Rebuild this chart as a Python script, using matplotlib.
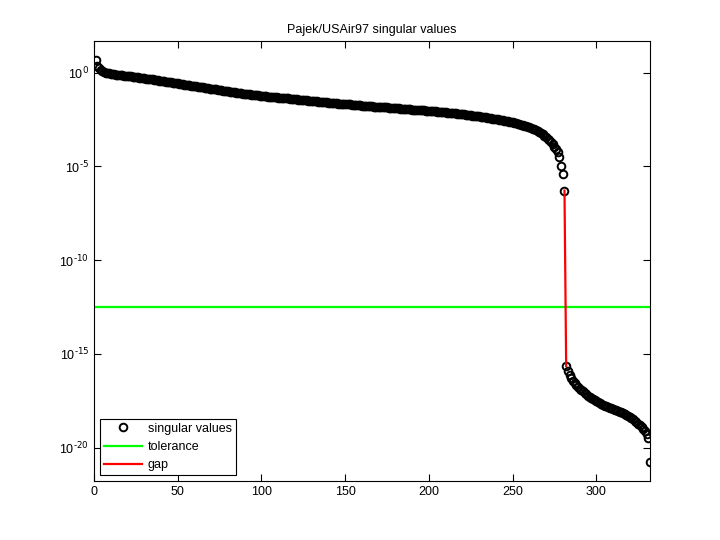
import numpy as np
import matplotlib
matplotlib.use("Agg")
import matplotlib.pyplot as plt
from matplotlib.ticker import FixedLocator, FixedFormatter

plt.rcParams['font.family'] = ['Liberation Sans', 'DejaVu Sans']
plt.rcParams['mathtext.default'] = 'regular'

# log10 of the singular values (332 values)
log_sv = [
    0.68, 0.36, 0.22, 0.13, 0.07, 0.03, 0.00, -0.03, -0.05, -0.07,
    -0.08, -0.09, -0.11, -0.12, -0.13, -0.14, -0.15, -0.16, -0.18, -0.19,
    -0.20, -0.21, -0.22, -0.24, -0.25, -0.26, -0.27, -0.28, -0.30, -0.31,
    -0.32, -0.34, -0.35, -0.36, -0.37, -0.39, -0.40, -0.41, -0.43, -0.44,
    -0.45, -0.47, -0.48, -0.50, -0.51, -0.52, -0.54, -0.55, -0.57, -0.58,
    -0.59, -0.61, -0.62, -0.64, -0.65, -0.66, -0.68, -0.69, -0.71, -0.72,
    -0.73, -0.75, -0.76, -0.78, -0.79, -0.80, -0.82, -0.83, -0.85, -0.86,
    -0.87, -0.89, -0.90, -0.92, -0.93, -0.94, -0.96, -0.97, -0.99, -1.00,
    -1.01, -1.03, -1.04, -1.05, -1.07, -1.08, -1.09, -1.10, -1.12, -1.13,
    -1.14, -1.15, -1.16, -1.17, -1.18, -1.19, -1.20, -1.21, -1.23, -1.24,
    -1.25, -1.26, -1.27, -1.28, -1.29, -1.29, -1.30, -1.31, -1.32, -1.33,
    -1.34, -1.35, -1.36, -1.37, -1.38, -1.38, -1.39, -1.40, -1.41, -1.42,
    -1.43, -1.44, -1.45, -1.46, -1.47, -1.47, -1.48, -1.49, -1.50, -1.51,
    -1.52, -1.53, -1.54, -1.55, -1.56, -1.56, -1.57, -1.58, -1.59, -1.60,
    -1.61, -1.62, -1.62, -1.63, -1.64, -1.65, -1.66, -1.66, -1.67, -1.68,
    -1.69, -1.70, -1.70, -1.71, -1.72, -1.73, -1.74, -1.74, -1.75, -1.76,
    -1.77, -1.77, -1.78, -1.79, -1.79, -1.80, -1.81, -1.82, -1.82, -1.83,
    -1.84, -1.84, -1.85, -1.86, -1.86, -1.87, -1.88, -1.89, -1.89, -1.90,
    -1.91, -1.91, -1.92, -1.93, -1.93, -1.94, -1.95, -1.96, -1.96, -1.97,
    -1.98, -1.98, -1.99, -2.00, -2.00, -2.01, -2.02, -2.03, -2.03, -2.04,
    -2.05, -2.06, -2.07, -2.07, -2.08, -2.09, -2.10, -2.11, -2.11, -2.12,
    -2.13, -2.14, -2.15, -2.16, -2.17, -2.18, -2.19, -2.20, -2.21, -2.22,
    -2.23, -2.24, -2.25, -2.27, -2.28, -2.29, -2.30, -2.31, -2.33, -2.34,
    -2.35, -2.37, -2.38, -2.39, -2.41, -2.42, -2.44, -2.45, -2.47, -2.48,
    -2.50, -2.51, -2.53, -2.55, -2.57, -2.58, -2.60, -2.62, -2.64, -2.66,
    -2.68, -2.70, -2.73, -2.75, -2.77, -2.80, -2.83, -2.85, -2.88, -2.92,
    -2.95, -2.99, -3.03, -3.07, -3.12, -3.17, -3.23, -3.29, -3.36, -3.45,
    -3.53, -3.61, -3.70, -3.82, -3.95, -4.10, -4.25, -4.52, -4.98, -5.43,
    -6.29, -15.64, -15.90, -16.10, -16.28, -16.42, -16.55, -16.66, -16.75, -16.85,
    -16.93, -17.00, -17.07, -17.15, -17.22, -17.28, -17.34, -17.40, -17.46, -17.52,
    -17.57, -17.62, -17.66, -17.71, -17.75, -17.79, -17.82, -17.86, -17.89, -17.93,
    -17.97, -18.00, -18.04, -18.08, -18.12, -18.16, -18.21, -18.26, -18.31, -18.36,
    -18.42, -18.49, -18.56, -18.64, -18.72, -18.80, -18.89, -18.98, -19.10, -19.25,
    -19.50, -20.78,
]
tolerance = 3.0e-13
rank = 281  # last singular value above the tolerance

x_ticks = [0, 50, 100, 150, 200, 250, 300]
y_exponents = [-20, -15, -10, -5, 0]

sv = 10.0 ** np.array(log_sv)
idx = np.arange(1, len(sv) + 1)

fig = plt.figure(figsize=(7.2, 5.4), dpi=100)
ax = fig.add_axes([0.1306, 0.109, 0.772, 0.815])

ax.semilogy(idx, sv, 'o', mfc='none', mec='black', ms=5.5, mew=1.4, label='singular values')
ax.axhline(tolerance, color=(0, 1, 0), lw=1.6, label='tolerance')
ax.plot(idx[rank - 1:rank + 1], sv[rank - 1:rank + 1], color=(1, 0, 0), lw=1.6, label='gap')

ax.set_xlim(0, len(sv))
ax.set_ylim(sv.min() / 10, sv.max() * 10)
ax.xaxis.set_major_locator(FixedLocator(x_ticks))
ax.yaxis.set_major_locator(FixedLocator([10.0 ** e for e in y_exponents]))
ax.yaxis.set_major_formatter(FixedFormatter(
    ['10$^{\\text{%d}}$' % e for e in y_exponents]))
ax.yaxis.set_minor_locator(FixedLocator([]))
ax.tick_params(direction='in', top=True, right=True, labelsize=9, length=5)
for s in ax.spines.values():
    s.set_linewidth(0.8)

ax.set_title('Pajek/USAir97 singular values', fontsize=9)
leg = ax.legend(loc='lower left', fontsize=9, fancybox=False, framealpha=1,
                edgecolor='black', borderaxespad=0.5, handlelength=3.0,
                handletextpad=0.5, labelspacing=0.5, borderpad=0.3)
leg.get_frame().set_linewidth(0.8)

plt.savefig('out.png')
